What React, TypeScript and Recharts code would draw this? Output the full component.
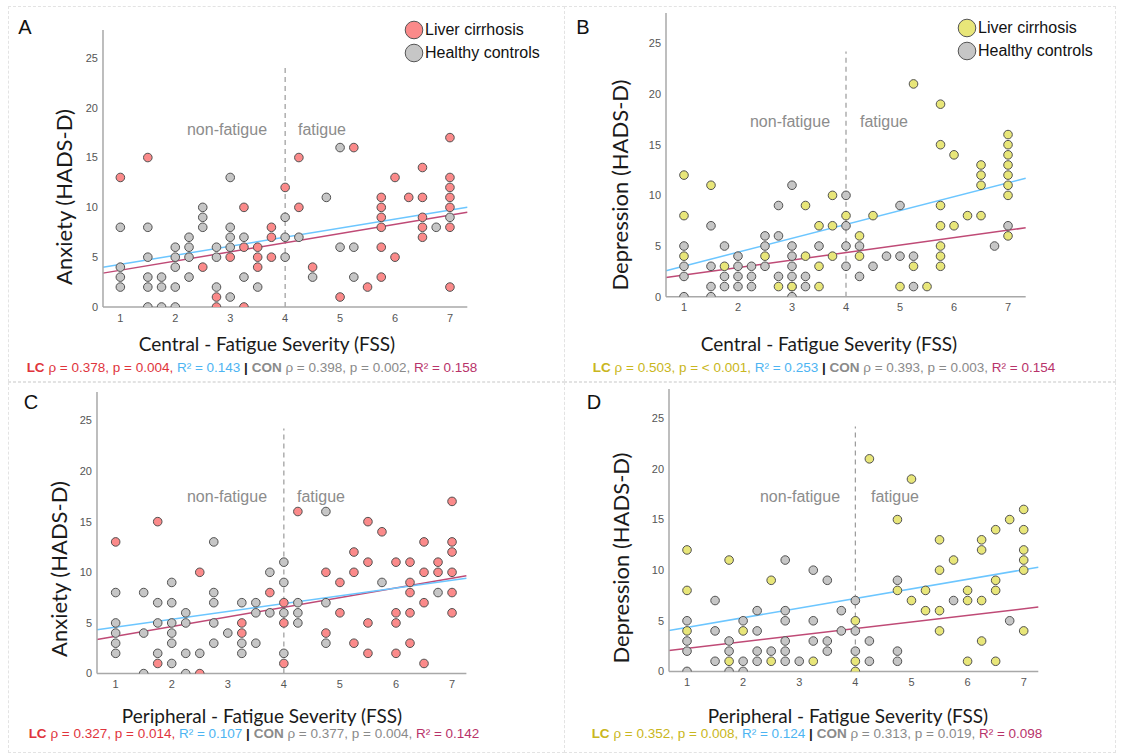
import React from 'react';
import { ScatterChart, Scatter, XAxis, YAxis, ReferenceLine } from 'recharts';

// ---------- tick labels ----------
const X_TICKS = [1, 2, 3, 4, 5, 6, 7];
const Y_TICKS = [0, 5, 10, 15, 20, 25];

// ---------- data: [FSS score, [HADS values at that score]] ----------
// Panel A – Anxiety vs Central FSS
const A_LC: [number, number[]][] = [
  [1, [13]], [1.5, [15]], [2.5, [4]], [2.75, [1, 0]], [3, [5]], [3.25, [10, 6, 0]], [3.5, [6, 5, 4]],
  [3.75, [8, 7, 5]], [4, [12]], [4.25, [15, 10]], [4.5, [4]], [5, [1]], [5.25, [16]], [5.5, [2]],
  [5.75, [11, 10, 9, 8, 6, 3]], [6, [13, 5]], [6.25, [11]], [6.5, [14, 11, 9, 8, 7]], [7, [17, 13, 12, 11, 10, 8, 2]],
];
const A_CON: [number, number[]][] = [
  [1, [8, 4, 3, 2]], [1.5, [8, 5, 3, 2, 0]], [1.75, [3, 2, 0]], [2, [6, 5, 4, 2, 0]], [2.25, [7, 6, 5, 3]],
  [2.5, [10, 9, 8]], [2.75, [6, 5, 2]], [3, [13, 8, 7, 6, 1]], [3.25, [7, 3]], [3.5, [2]], [4, [9, 7, 5]],
  [4.25, [7]], [4.5, [3]], [4.75, [11]], [5, [16, 6]], [5.25, [6, 3]], [6.75, [8]], [7, [9]],
];
const A_FIT_LC = [{ x: 0.684, y: 4.0 }, { x: 7.316, y: 10.0 }];
const A_FIT_CON = [{ x: 0.684, y: 3.4 }, { x: 7.316, y: 9.5 }];

// Panel B – Depression vs Central FSS
const B_LC: [number, number[]][] = [
  [1, [12, 8, 4]], [1.5, [11]], [1.75, [3]], [2.5, [4]], [2.75, [1]], [3, [1]], [3.25, [9, 4]], [3.5, [7, 3, 1]],
  [3.75, [10, 7, 4]], [4, [8]], [4.25, [6, 4]], [4.5, [8]], [5, [1]], [5.25, [21, 3]], [5.5, [1]],
  [5.75, [19, 15, 9, 7, 5, 4, 3]], [6, [14, 7]], [6.25, [8]], [6.5, [13, 12, 11, 8]], [7, [16, 15, 14, 13, 12, 11, 10, 6]],
];
const B_CON: [number, number[]][] = [
  [1, [5, 3, 2, 0]], [1.5, [7, 3, 1, 0]], [1.75, [5, 2, 1]], [2, [4, 3, 2, 1]], [2.25, [3, 2, 1]], [2.5, [6, 5, 3]],
  [2.75, [9, 6, 2]], [3, [11, 5, 4, 3, 2, 1, 0]], [3.25, [2, 1]], [3.5, [5]], [4, [10, 7, 5, 3]], [4.25, [5, 2]],
  [4.5, [3]], [4.75, [4]], [5, [9, 4]], [5.25, [4, 1]], [6.75, [5]], [7, [7]],
];
const B_FIT_LC = [{ x: 0.667, y: 2.57 }, { x: 7.327, y: 11.68 }];
const B_FIT_CON = [{ x: 0.667, y: 1.9 }, { x: 7.327, y: 6.8 }];

// Panel C – Anxiety vs Peripheral FSS
const C_LC: [number, number[]][] = [
  [1, [13]], [1.75, [15, 1]], [2.5, [10, 0]], [3.25, [5, 4]], [3.75, [8]], [4, [7, 5, 1]], [4.25, [16]],
  [4.75, [10, 4]], [5, [9, 6]], [5.25, [12, 10, 3]], [5.5, [15, 11, 5, 2]], [5.75, [14]], [6, [11, 6, 5, 2]],
  [6.25, [11, 9, 8, 6, 3]], [6.5, [13, 10, 7, 1]], [6.75, [11, 10]], [7, [17, 13, 12, 10, 8, 6]],
];
const C_CON: [number, number[]][] = [
  [1, [8, 5, 4, 3, 2]], [1.5, [8, 4, 0]], [1.75, [7, 5, 2]], [2, [9, 7, 5, 4, 3, 1]], [2.25, [6, 5, 2, 0]],
  [2.5, [2]], [2.75, [13, 8, 7, 5, 3]], [3, [4]], [3.25, [7, 3, 2]], [3.5, [7, 6, 3]], [3.75, [10, 6]],
  [4, [11, 9, 6, 2]], [4.25, [7, 6, 5]], [4.75, [16, 7, 3]], [5.75, [9]], [6.75, [8]],
];
const C_FIT_LC = [{ x: 0.667, y: 4.34 }, { x: 7.256, y: 9.41 }];
const C_FIT_CON = [{ x: 0.667, y: 3.36 }, { x: 7.256, y: 9.67 }];

// Panel D – Depression vs Peripheral FSS
const D_LC: [number, number[]][] = [
  [1, [12, 8, 4]], [1.75, [11, 1]], [2, [4]], [2.5, [9, 1]], [3.25, [1]], [4, [5, 1, 0]], [4.25, [21]],
  [4.75, [15, 8]], [5, [19, 7]], [5.25, [8, 6]], [5.5, [13, 10, 6, 4]], [5.75, [11]], [6, [8, 7, 1]],
  [6.25, [13, 12, 7, 3]], [6.5, [14, 9, 8, 1]], [6.75, [15]], [7, [16, 14, 12, 11, 10, 4]],
];
const D_CON: [number, number[]][] = [
  [1, [5, 3, 2, 0]], [1.5, [7, 4, 1]], [1.75, [3, 2, 0]], [2, [5, 1, 0]], [2.25, [6, 4, 2, 1]], [2.5, [2]],
  [2.75, [11, 6, 5, 3, 2, 1]], [3, [1]], [3.25, [10, 5, 3]], [3.5, [9, 3, 2]], [3.75, [6, 4]], [4, [7, 4, 2]],
  [4.25, [3, 1]], [4.75, [9, 2, 1]], [5.75, [7]], [6.75, [5]],
];
const D_FIT_LC = [{ x: 0.679, y: 4.05 }, { x: 7.26, y: 10.3 }];
const D_FIT_CON = [{ x: 0.679, y: 2.07 }, { x: 7.26, y: 6.35 }];

const CUTOFF = [{ x: 4, y: 0 }, { x: 4, y: 24.2 }];

// ---------- text ----------
const LEGEND_LABELS = ['Liver cirrhosis', 'Healthy controls'];
const STATS_A = ['ρ = 0.378, p = 0.004, ', 'R² = 0.143', 'ρ = 0.398, p = 0.002, ', 'R² = 0.158'];
const STATS_B = ['ρ = 0.503, p = < 0.001, ', 'R² = 0.253', 'ρ = 0.393, p = 0.003, ', 'R² = 0.154'];
const STATS_C = ['ρ = 0.327, p = 0.014, ', 'R² = 0.107', 'ρ = 0.377, p = 0.004, ', 'R² = 0.142'];
const STATS_D = ['ρ = 0.352, p = 0.008, ', 'R² = 0.124', 'ρ = 0.313, p = 0.019, ', 'R² = 0.098'];

// ---------- styles ----------
const RED_FILL = '#fb8a8a';
const YELLOW_FILL = '#e8e679';
const GRAY_FILL = '#c6c6c6';
const DOT_STROKE = '#505050';
const FIT_LC = '#6cc6ff';
const FIT_CON = '#bf4a76';
const SANS = '"Liberation Sans", Arial, sans-serif';
const TITLE_FONT = 'Lato, "Open Sans", sans-serif';

const toPoints = (groups: [number, number[]][]) =>
  groups.flatMap(([x, ys]) => ys.map((y) => ({ x, y })));

const dot = (fill: string) => (props: any) => (
  <circle cx={props.cx} cy={props.cy} r={4.3} fill={fill} stroke={DOT_STROKE} strokeWidth={1} />
);

type PanelCfg = {
  plotL: number; plotR: number; plotT: number; plotB: number;
  xDomain: [number, number]; yDomain: [number, number];
  lc: [number, number[]][]; con: [number, number[]][];
  fitLc: { x: number; y: number }[]; fitCon: { x: number; y: number }[];
  lcFill: string;
};

function Panel({ cfg }: { cfg: PanelCfg }) {
  const yw = 40, xh = 30, mt = 4, mr = 4;
  const plotW = cfg.plotR - cfg.plotL;
  const plotH = cfg.plotB - cfg.plotT;
  const width = yw + plotW + mr;
  const height = mt + plotH + xh;
  const axisLine = { stroke: '#a8a8a8', strokeWidth: 1.5 };
  const tick = { fontSize: 11, fill: '#555', fontFamily: SANS };
  return (
    <div style={{ position: 'absolute', left: cfg.plotL - yw, top: cfg.plotT - mt }}>
      <ScatterChart width={width} height={height} margin={{ top: mt, right: mr, left: 0, bottom: 0 }}>
        <XAxis type="number" dataKey="x" domain={cfg.xDomain} ticks={X_TICKS} allowDataOverflow
          height={xh} tickLine={false} tickSize={0} tickMargin={7} axisLine={axisLine} tick={tick} interval={0} />
        <YAxis type="number" dataKey="y" domain={cfg.yDomain} ticks={Y_TICKS} allowDataOverflow
          width={yw} tickLine={false} tickSize={0} tickMargin={5} axisLine={axisLine} tick={tick} interval={0} />
        <ReferenceLine segment={CUTOFF} stroke="#9a9a9a" strokeWidth={1.2} strokeDasharray="5 4" ifOverflow="visible" />
        <Scatter data={toPoints(cfg.con)} shape={dot(GRAY_FILL)} isAnimationActive={false} />
        <Scatter data={toPoints(cfg.lc)} shape={dot(cfg.lcFill)} isAnimationActive={false} />
        <ReferenceLine segment={cfg.fitCon} stroke={FIT_CON} strokeWidth={1.5} ifOverflow="visible" />
        <ReferenceLine segment={cfg.fitLc} stroke={FIT_LC} strokeWidth={1.5} ifOverflow="visible" />
      </ScatterChart>
    </div>
  );
}

const abs = (left: number, top: number, extra: React.CSSProperties = {}): React.CSSProperties => ({
  position: 'absolute', left, top, whiteSpace: 'nowrap', ...extra,
});

function Legend({ x, y, lcFill }: { x: number; y: number; lcFill: string }) {
  const fills = [lcFill, GRAY_FILL];
  return (
    <>
      {LEGEND_LABELS.map((t, i) => (
        <div key={t} style={abs(x - 10, y + i * 22.5 - 10, { display: 'flex', alignItems: 'center', height: 20 })}>
          <svg width={20} height={20} style={{ display: 'block' }}>
            <circle cx={10} cy={10} r={8.8} fill={fills[i]} stroke="#555" strokeWidth={1} />
          </svg>
          <span style={{ fontFamily: SANS, fontSize: 16, color: '#111', marginLeft: 1 }}>{t}</span>
        </div>
      ))}
    </>
  );
}

function Stats({ cx, cy, s, lcColor }: { cx: number; cy: number; s: string[]; lcColor: string }) {
  return (
    <div style={abs(cx, cy, { transform: 'translate(-50%, -50%)', fontFamily: SANS, fontSize: 13.5 })}>
      <span style={{ color: lcColor }}><b>LC</b> {s[0]}</span>
      <span style={{ color: '#4db4f2' }}>{s[1]}</span>
      <span style={{ color: '#222' }}> <b>|</b> </span>
      <span style={{ color: '#8a8a8a' }}><b>CON</b> {s[2]}</span>
      <span style={{ color: '#b8336a' }}>{s[3]}</span>
    </div>
  );
}

function Centered({ cx, cy, children, style }: { cx: number; cy: number; children: React.ReactNode; style: React.CSSProperties }) {
  return <div style={abs(cx, cy, { transform: 'translate(-50%, -50%)', lineHeight: 1, ...style })}>{children}</div>;
}

function YTitle({ cx, cy, text }: { cx: number; cy: number; text: string }) {
  return (
    <div style={abs(cx, cy, { transform: 'translate(-50%, -50%) rotate(-90deg)', fontFamily: TITLE_FONT, fontSize: 22, color: '#1a1a1a', lineHeight: 1 })}>
      {text}
    </div>
  );
}

const PANEL_A: PanelCfg = { plotL: 102.7, plotR: 467, plotT: 30, plotB: 307, xDomain: [0.684, 7.316], yDomain: [0, 27.8], lc: A_LC, con: A_CON, fitLc: A_FIT_LC, fitCon: A_FIT_CON, lcFill: RED_FILL };
const PANEL_B: PanelCfg = { plotL: 666, plotR: 1025.7, plotT: 13, plotB: 296.7, xDomain: [0.667, 7.327], yDomain: [0, 28], lc: B_LC, con: B_CON, fitLc: B_FIT_LC, fitCon: B_FIT_CON, lcFill: YELLOW_FILL };
const PANEL_C: PanelCfg = { plotL: 97.3, plotR: 466.7, plotT: 391.7, plotB: 673.3, xDomain: [0.667, 7.256], yDomain: [0, 27.8], lc: C_LC, con: C_CON, fitLc: C_FIT_LC, fitCon: C_FIT_CON, lcFill: RED_FILL };
const PANEL_D: PanelCfg = { plotL: 669, plotR: 1038.3, plotT: 389.3, plotB: 671.7, xDomain: [0.679, 7.26], yDomain: [0, 27.9], lc: D_LC, con: D_CON, fitLc: D_FIT_LC, fitCon: D_FIT_CON, lcFill: YELLOW_FILL };

const LETTER: React.CSSProperties = { fontFamily: SANS, fontSize: 20, color: '#111' };
const ANNOT: React.CSSProperties = { fontFamily: SANS, fontSize: 16, color: '#8c8c8c' };
const XTITLE: React.CSSProperties = { fontFamily: TITLE_FONT, fontSize: 19, color: '#1a1a1a' };

export default function App() {
  const box = (l: number, t: number, w: number, h: number) => (
    <div style={{ position: 'absolute', left: l, top: t, width: w, height: h, border: '1px dashed #e3e3e3', boxSizing: 'border-box' }} />
  );
  return (
    <div style={{ position: 'absolute', left: 0, top: 0, width: 1121, height: 755, background: '#fff', overflow: 'hidden' }}>
      {box(8, 6, 557, 376)}
      {box(564, 6, 552, 376)}
      {box(8, 382, 557, 371)}
      {box(564, 382, 552, 371)}

      <Panel cfg={PANEL_A} />
      <Panel cfg={PANEL_B} />
      <Panel cfg={PANEL_C} />
      <Panel cfg={PANEL_D} />

      <Centered cx={25} cy={27} style={LETTER}>A</Centered>
      <Centered cx={583} cy={27} style={LETTER}>B</Centered>
      <Centered cx={31} cy={402} style={LETTER}>C</Centered>
      <Centered cx={594} cy={402} style={LETTER}>D</Centered>

      <Legend x={414} y={30} lcFill={RED_FILL} />
      <Legend x={967} y={28} lcFill={YELLOW_FILL} />

      <Centered cx={227} cy={130} style={ANNOT}>non-fatigue</Centered>
      <Centered cx={322} cy={130} style={ANNOT}>fatigue</Centered>
      <Centered cx={790} cy={122} style={ANNOT}>non-fatigue</Centered>
      <Centered cx={884} cy={122} style={ANNOT}>fatigue</Centered>
      <Centered cx={227} cy={497} style={ANNOT}>non-fatigue</Centered>
      <Centered cx={321} cy={497} style={ANNOT}>fatigue</Centered>
      <Centered cx={800} cy={497} style={ANNOT}>non-fatigue</Centered>
      <Centered cx={895} cy={497} style={ANNOT}>fatigue</Centered>

      <YTitle cx={64} cy={197} text="Anxiety (HADS-D)" />
      <YTitle cx={620} cy={185} text="Depression (HADS-D)" />
      <YTitle cx={59} cy={569} text="Anxiety (HADS-D)" />
      <YTitle cx={621} cy={558} text="Depression (HADS-D)" />

      <Centered cx={267} cy={343} style={XTITLE}>Central - Fatigue Severity (FSS)</Centered>
      <Centered cx={829} cy={343} style={XTITLE}>Central - Fatigue Severity (FSS)</Centered>
      <Centered cx={262} cy={715} style={XTITLE}>Peripheral - Fatigue Severity (FSS)</Centered>
      <Centered cx={848} cy={715} style={XTITLE}>Peripheral - Fatigue Severity (FSS)</Centered>

      <Stats cx={252} cy={367} s={STATS_A} lcColor="#e0343c" />
      <Stats cx={824} cy={367} s={STATS_B} lcColor="#c9b620" />
      <Stats cx={254} cy={733} s={STATS_C} lcColor="#e0343c" />
      <Stats cx={817} cy={733} s={STATS_D} lcColor="#c9b620" />
    </div>
  );
}
